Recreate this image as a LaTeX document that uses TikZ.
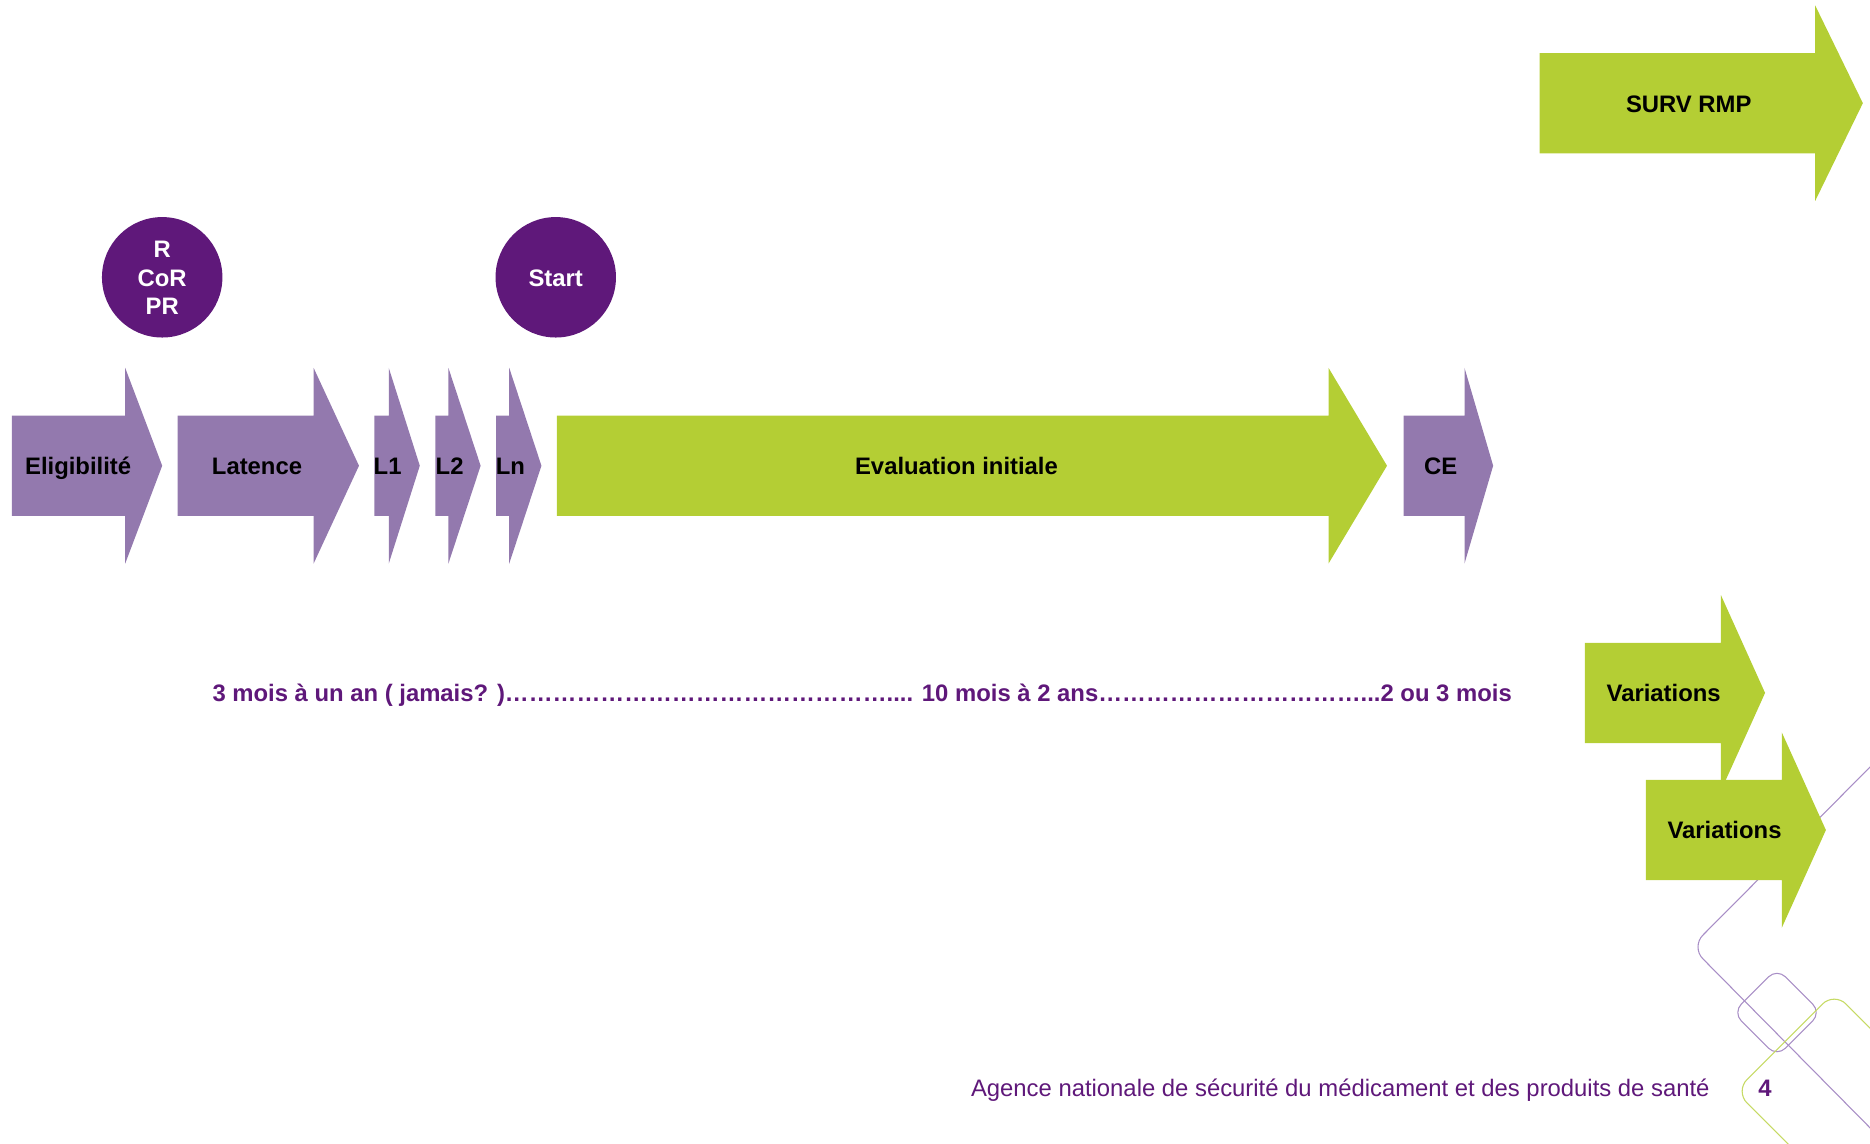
\documentclass[tikz,border=0pt]{standalone}
\usepackage{fontspec}
\setmainfont{Liberation Sans}
\definecolor{apurple}{RGB}{147,121,174}
\definecolor{agreen}{RGB}{180,206,52}
\definecolor{dpurple}{RGB}{95,24,122}
\definecolor{lpurple}{RGB}{168,142,198}
\definecolor{lgreen}{RGB}{198,218,100}
\newcommand\chevron[5]{%
  \fill[#1] (#2,#5-42) -- (#3,#5-42) -- (#3,#5-82) -- (#4,#5) -- (#3,#5+82) -- (#3,#5+42) -- (#2,#5+42) -- cycle;}
\newcommand\oneel{\symbol{"2026}}
\newcommand\fourel{\oneel\oneel\oneel\oneel}
\begin{document}
\begin{tikzpicture}[x=1pt,y=-1pt,
  lbl/.style={font=\fontsize{20}{24}\selectfont\bfseries, inner sep=0pt, anchor=base, text=black},
  circ/.style={circle, fill=dpurple, minimum size=101pt, inner sep=0pt},
  ctext/.style={font=\fontsize{20}{24}\selectfont\bfseries, text=white, align=center, inner sep=0pt},
  decop/.style={draw=lpurple, line width=0.9pt},
  decog/.style={draw=lgreen, line width=0.9pt}]
\useasboundingbox (0,0) rectangle (1568,959.2);
% decoration
\begin{scope}
  \clip (0,0) rectangle (1568,959.2);
  \draw[decop, rounded corners=14] (1600,611) -- (1418,794) -- (1600,978);
  \draw[decop, rounded corners=10] (1490,812) -- (1527,849) -- (1490,886) -- (1453,849) -- cycle;
  \draw[decog, rounded corners=14] (1600,894) -- (1538,832) -- (1455,915) -- (1520,980);
\end{scope}
% arrows
\chevron{agreen}{1291}{1522}{1562}{86.5}
\chevron{apurple}{10}{105}{136}{390.5}
\chevron{apurple}{149}{263}{301}{390.5}
\chevron{apurple}{314}{326}{352}{390.5}
\chevron{apurple}{365}{376}{403}{390.5}
\chevron{apurple}{416}{427}{454}{390.5}
\chevron{agreen}{467}{1114}{1163}{390.5}
\chevron{apurple}{1177}{1228}{1252}{390.5}
\chevron{agreen}{1329}{1443}{1480}{581}
\chevron{agreen}{1380}{1494}{1531}{696}
% labels
\node[lbl] (surv) at (1416,94) {SURV RMP};
\node[lbl] (elig) at (65.5,398) {Eligibilité};
\node[lbl] (lat) at (215.5,398) {Latence};
\node[lbl] (l1) at (325,398) {L1};
\node[lbl] (l2) at (377,398) {L2};
\node[lbl] (ln) at (428,398) {Ln};
\node[lbl] (eval) at (802,398) {Evaluation initiale};
\node[lbl] (ce) at (1208,398) {CE};
\node[lbl] (var1) at (1395,588) {Variations};
\node[lbl] (var2) at (1446,703) {Variations};
% circles
\node[circ] (rcor) at (136,232.5) {};
\node[ctext] (rcort) at (136,233) {R\\CoR\\PR};
\node[circ] (start) at (466,232.5) {};
\node[ctext] (startt) at (466,233) {Start};
% durations
\node[font=\fontsize{20}{24}\selectfont\bfseries, text=dpurple, inner sep=0pt, anchor=base west] (dur) at (178,588)
  {3 mois à un an ( jamais? )\fourel\fourel\fourel\fourel.... 10 mois à 2 ans\fourel\fourel\oneel\oneel\oneel...2 ou 3 mois};
% footer
\node[font=\fontsize{20}{24}\selectfont, text=dpurple, inner sep=0pt, anchor=base west] (foot) at (814,919)
  {Agence nationale de sécurité du médicament et des produits de santé};
\node[font=\fontsize{20}{24}\selectfont\bfseries, text=dpurple, inner sep=0pt, anchor=base] (page) at (1480,919) {4};
\end{tikzpicture}
\end{document}
